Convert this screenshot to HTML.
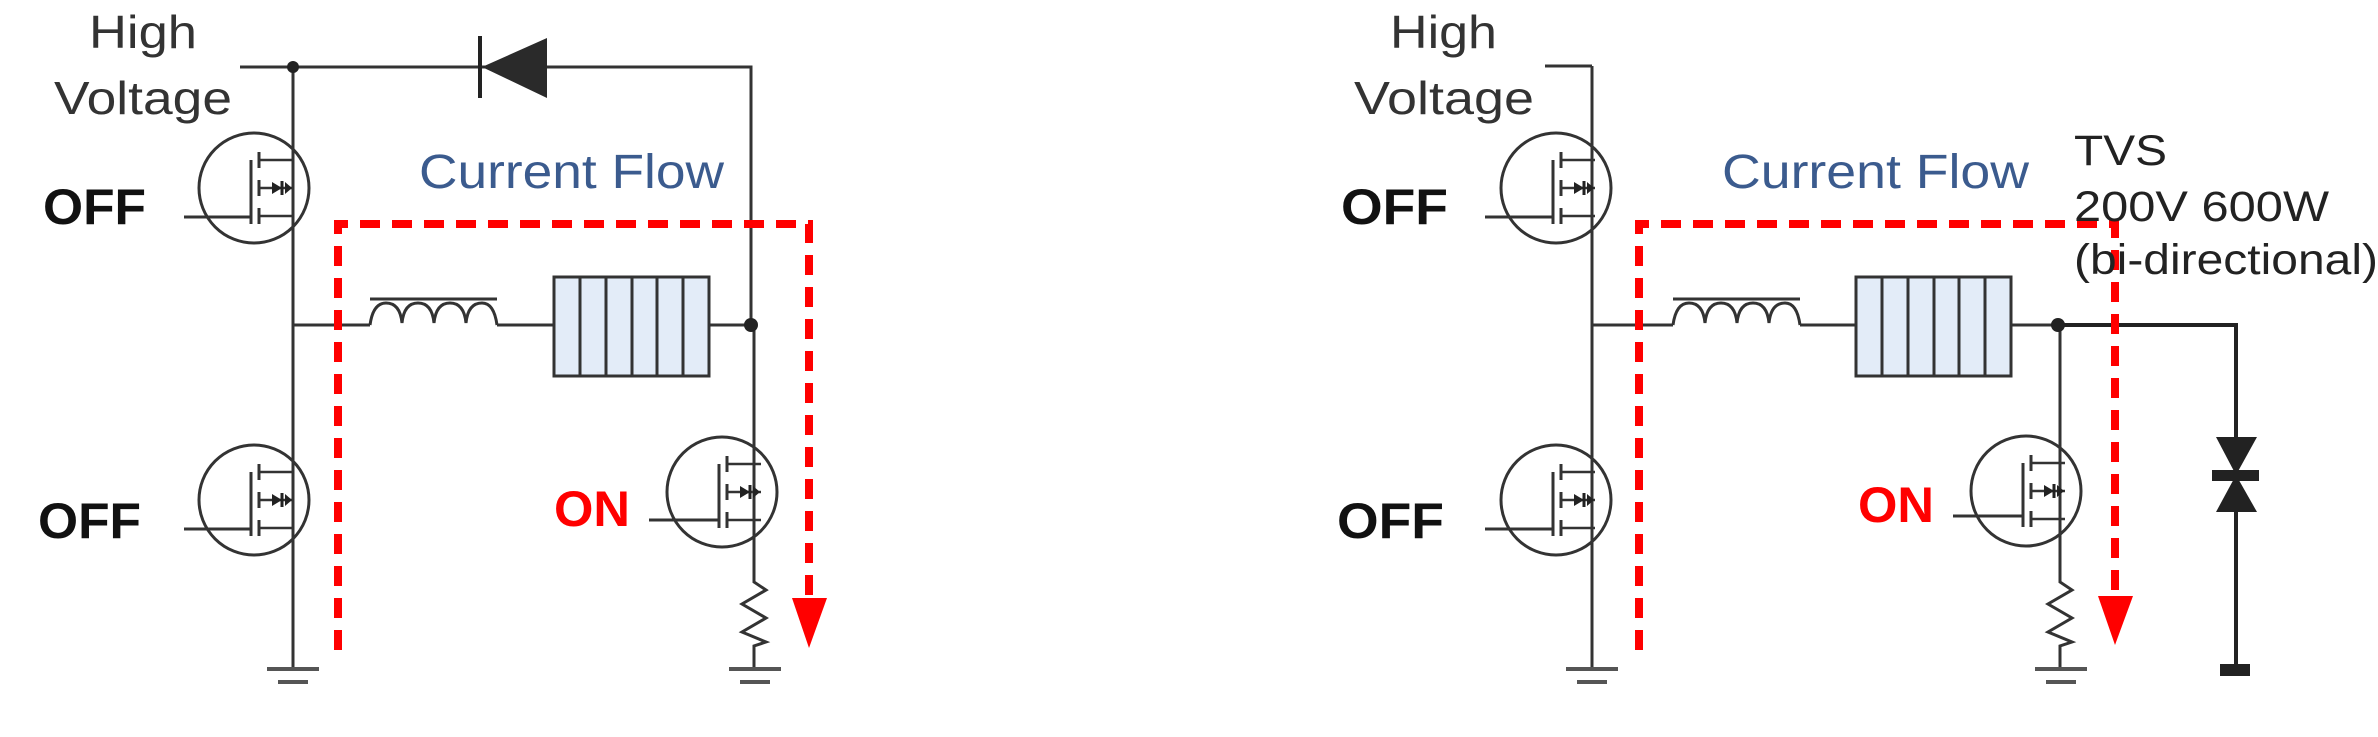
<!DOCTYPE html>
<html><head><meta charset="utf-8"><style>html,body{margin:0;padding:0;background:#fff}svg{display:block}</style></head>
<body>
<svg width="2378" height="737" viewBox="0 0 2378 737" xmlns="http://www.w3.org/2000/svg" font-family="Liberation Sans, Arial, sans-serif">
<defs>
<g id="mos">
  <circle cx="0" cy="0" r="55" fill="none" stroke="#333" stroke-width="3"/>
  <line x1="-3" y1="-28" x2="-3" y2="36" stroke="#333" stroke-width="3"/>
  <line x1="5" y1="-36" x2="5" y2="-20" stroke="#333" stroke-width="3"/>
  <line x1="5" y1="-8" x2="5" y2="8" stroke="#333" stroke-width="3"/>
  <line x1="5" y1="20" x2="5" y2="36" stroke="#333" stroke-width="3"/>
  <line x1="5" y1="-28" x2="39" y2="-28" stroke="#333" stroke-width="2.5"/>
  <line x1="5" y1="28" x2="39" y2="28" stroke="#333" stroke-width="2.5"/>
  <line x1="5" y1="0" x2="39" y2="0" stroke="#333" stroke-width="2.5"/>
  <polygon points="18,-6 18,6 28,0" fill="#222"/>
  <line x1="28" y1="-7" x2="28" y2="7" stroke="#222" stroke-width="3"/>
  <polygon points="31,-6 31,6 38,0" fill="#222"/>
</g>
<g id="gnd" stroke="#555" stroke-width="4">
  <line x1="-26" y1="0" x2="26" y2="0"/>
  <line x1="-15" y1="13" x2="15" y2="13"/>
</g>
<g id="bat">
  <rect x="0" y="0" width="155" height="99" fill="#e3ecf8" stroke="#333" stroke-width="3"/>
  <line x1="26" y1="0" x2="26" y2="99" stroke="#333" stroke-width="3"/>
  <line x1="52" y1="0" x2="52" y2="99" stroke="#333" stroke-width="3"/>
  <line x1="78" y1="0" x2="78" y2="99" stroke="#333" stroke-width="3"/>
  <line x1="103" y1="0" x2="103" y2="99" stroke="#333" stroke-width="3"/>
  <line x1="129" y1="0" x2="129" y2="99" stroke="#333" stroke-width="3"/>
</g>
<g id="ind" fill="none" stroke="#333" stroke-width="3">
  <path d="M0,24 Q3,2 16,2 Q30,2 32,22 Q34,2 48,2 Q62,2 64,22 Q66,2 80,2 Q94,2 96,22 Q98,2 112,2 Q124,2 127,24"/>
  <line x1="0" y1="-2" x2="127" y2="-2" stroke-width="3"/>
</g>
<path id="res" d="M0,0 L0,6 L12,14 L-12,28 L12,42 L-12,56 L12,66 L0,70 L0,93" fill="none" stroke="#333" stroke-width="3"/>
</defs>

<!-- LEFT CIRCUIT -->
<g stroke="#333" stroke-width="3" fill="none">
  <line x1="240" y1="67" x2="293" y2="67"/>
  <line x1="293" y1="67" x2="293" y2="669"/>
  <polyline points="293,67 751,67 751,325"/>
  <line x1="293" y1="325" x2="370" y2="325"/>
  <line x1="497" y1="325" x2="554" y2="325"/>
  <line x1="709" y1="325" x2="754" y2="325"/>
  <line x1="754" y1="325" x2="754" y2="576"/>
  <line x1="184" y1="217" x2="251" y2="217"/>
  <line x1="184" y1="529" x2="251" y2="529"/>
  <line x1="649" y1="520" x2="719" y2="520"/>
</g>
<circle cx="293" cy="67" r="6" fill="#222"/>
<circle cx="751" cy="325" r="7" fill="#222"/>
<line x1="480" y1="36" x2="480" y2="98" stroke="#222" stroke-width="4"/>
<polygon points="482,67 547,38 547,98" fill="#2a2a2a"/>
<use href="#mos" x="254" y="188"/>
<use href="#mos" x="254" y="500"/>
<use href="#mos" x="722" y="492"/>
<use href="#ind" x="370" y="301"/>
<use href="#bat" x="554" y="277"/>
<use href="#res" x="754" y="576"/>
<use href="#gnd" x="293" y="669"/>
<use href="#gnd" x="755" y="669"/>
<polyline points="338,650 338,224 809,224 809,600" fill="none" stroke="#f00" stroke-width="8" stroke-dasharray="20,12"/>
<polygon points="792,598 827,598 809,648" fill="#f00"/>
<text x="89" y="48" font-size="46" fill="#333" textLength="108" lengthAdjust="spacingAndGlyphs">High</text>
<text x="54" y="114" font-size="46" fill="#333" textLength="178" lengthAdjust="spacingAndGlyphs">Voltage</text>
<text x="43" y="224" font-size="50" font-weight="bold" fill="#111" textLength="103" lengthAdjust="spacingAndGlyphs">OFF</text>
<text x="38" y="538" font-size="50" font-weight="bold" fill="#111" textLength="103" lengthAdjust="spacingAndGlyphs">OFF</text>
<text x="554" y="526" font-size="50" font-weight="bold" fill="#f00" textLength="76" lengthAdjust="spacingAndGlyphs">ON</text>
<text x="419" y="188" font-size="48" fill="#3b5b8e" textLength="305" lengthAdjust="spacingAndGlyphs">Current Flow</text>

<!-- RIGHT CIRCUIT -->
<g stroke="#333" stroke-width="3" fill="none">
  <line x1="1545" y1="66" x2="1592" y2="66"/>
  <line x1="1592" y1="66" x2="1592" y2="669"/>
  <line x1="1592" y1="325" x2="1673" y2="325"/>
  <line x1="1800" y1="325" x2="1856" y2="325"/>
  <line x1="2011" y1="325" x2="2058" y2="325"/>
  <line x1="2060" y1="325" x2="2060" y2="576"/>
  <line x1="1485" y1="217" x2="1553" y2="217"/>
  <line x1="1485" y1="529" x2="1553" y2="529"/>
  <line x1="1953" y1="516" x2="2023" y2="516"/>
</g>
<polyline points="2058,325 2236,325 2236,668" fill="none" stroke="#222" stroke-width="4"/>
<circle cx="2058" cy="325" r="7" fill="#222"/>
<polygon points="2216,437 2257,437 2236,475" fill="#222"/>
<polygon points="2216,512 2257,512 2236,475" fill="#222"/>
<rect x="2212" y="470" width="47" height="11" fill="#222"/>
<rect x="2220" y="664" width="30" height="12" fill="#222"/>
<use href="#mos" x="1556" y="188"/>
<use href="#mos" x="1556" y="500"/>
<use href="#mos" x="2026" y="491"/>
<use href="#ind" x="1673" y="301"/>
<use href="#bat" x="1856" y="277"/>
<use href="#res" x="2060" y="576"/>
<use href="#gnd" x="1592" y="669"/>
<use href="#gnd" x="2061" y="669"/>
<polyline points="1639,650 1639,224 2115,224 2115,600" fill="none" stroke="#f00" stroke-width="8" stroke-dasharray="20,12"/>
<polygon points="2098,596 2133,596 2115,645" fill="#f00"/>
<text x="1390" y="48" font-size="46" fill="#333" textLength="107" lengthAdjust="spacingAndGlyphs">High</text>
<text x="1354" y="114" font-size="46" fill="#333" textLength="180" lengthAdjust="spacingAndGlyphs">Voltage</text>
<text x="1341" y="224" font-size="50" font-weight="bold" fill="#111" textLength="107" lengthAdjust="spacingAndGlyphs">OFF</text>
<text x="1337" y="538" font-size="50" font-weight="bold" fill="#111" textLength="107" lengthAdjust="spacingAndGlyphs">OFF</text>
<text x="1858" y="522" font-size="50" font-weight="bold" fill="#f00" textLength="76" lengthAdjust="spacingAndGlyphs">ON</text>
<text x="1722" y="188" font-size="48" fill="#3b5b8e" textLength="307" lengthAdjust="spacingAndGlyphs">Current Flow</text>
<text x="2074" y="165" font-size="43" fill="#222" textLength="93" lengthAdjust="spacingAndGlyphs">TVS</text>
<text x="2074" y="221" font-size="43" fill="#222" textLength="255" lengthAdjust="spacingAndGlyphs">200V 600W</text>
<text x="2074" y="274" font-size="43" fill="#222" textLength="304" lengthAdjust="spacingAndGlyphs">(bi-directional)</text>
</svg>
</body></html>
